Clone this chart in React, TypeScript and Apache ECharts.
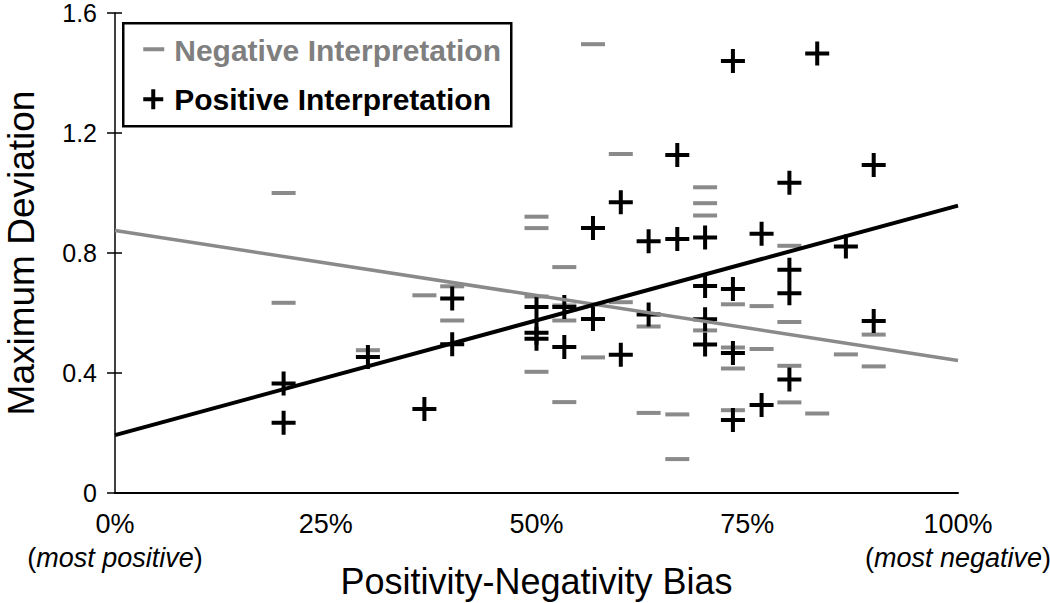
import React, { useEffect, useRef } from "react";
import * as echarts from "echarts";

// Positivity-negativity bias (%) and maximum deviation, negative interpretation
const negativeBias = [
  20, 20, 30, 36.7, 40, 40, 50, 50, 50, 50, 53.3, 53.3, 53.3, 53.3, 56.7, 56.7,
  60, 60, 63.3, 63.3, 66.7, 66.7, 70, 70, 70, 70, 73.3, 73.3, 73.3, 73.3, 76.7,
  76.7, 80, 80, 80, 80, 83.3, 86.7, 90, 90,
];
const negativeDeviation = [
  1.0, 0.634, 0.476, 0.659, 0.689, 0.575, 0.921, 0.883, 0.655, 0.404, 0.753,
  0.625, 0.575, 0.303, 1.496, 0.452, 1.13, 0.636, 0.555, 0.267, 0.262, 0.113,
  1.019, 0.966, 0.925, 0.542, 0.629, 0.485, 0.415, 0.276, 0.623, 0.48, 0.824,
  0.57, 0.424, 0.302, 0.265, 0.462, 0.528, 0.422,
];

// Positive interpretation
const positiveBias = [
  20, 20, 30, 36.7, 40, 40, 50, 50, 50, 53.3, 53.3, 56.7, 56.7, 60, 60, 63.3,
  63.3, 66.7, 66.7, 70, 70, 70, 70, 73.3, 73.3, 73.3, 73.3, 76.7, 76.7, 80, 80,
  80, 80, 83.3, 86.7, 90, 90,
];
const positiveDeviation = [
  0.365, 0.234, 0.453, 0.28, 0.648, 0.496, 0.62, 0.534, 0.514, 0.62, 0.487,
  0.883, 0.58, 0.969, 0.461, 0.839, 0.595, 1.127, 0.847, 0.852, 0.69, 0.579,
  0.495, 1.44, 0.68, 0.467, 0.243, 0.864, 0.293, 1.034, 0.744, 0.666, 0.378,
  1.465, 0.822, 1.093, 0.573,
];

// Trend line endpoints (bias %, deviation)
const negativeTrendBias = [0, 100];
const negativeTrendDeviation = [0.875, 0.442];
const positiveTrendBias = [0, 100];
const positiveTrendDeviation = [0.193, 0.958];

const xTicks = [0, 25, 50, 75, 100];
const xTickLabels = ["0%", "25%", "50%", "75%", "100%"];
const yTicks = [0, 0.4, 0.8, 1.2, 1.6];
const yTickLabels = ["0", "0.4", "0.8", "1.2", "1.6"];

const seriesNames = ["Negative Interpretation", "Positive Interpretation"];

const GRAY = "#8a8a8a";
const FONT = "'Liberation Sans', Arial, Helvetica, sans-serif";

const MINUS = "path://M0,0H24V4H0Z";
const PLUS = "path://M10,0H14V24H10Z M0,10H24V14H0Z";

export default function App() {
  const ref = useRef<HTMLDivElement>(null);

  useEffect(() => {
    if (!ref.current) return;
    const chart = echarts.init(ref.current, undefined, { renderer: "svg" });

    const negData = negativeBias.map((b, i) => [b, negativeDeviation[i]]);
    const posData = positiveBias.map((b, i) => [b, positiveDeviation[i]]);
    const negTrend = negativeTrendBias.map((b, i) => [b, negativeTrendDeviation[i]]);
    const posTrend = positiveTrendBias.map((b, i) => [b, positiveTrendDeviation[i]]);

    const xLabel = (v: number) => {
      const idx = xTicks.indexOf(v);
      const t = idx >= 0 ? xTickLabels[idx] : "";
      if (v === 0) return t + "\n{p|(}{i|most positive}{p|)}";
      if (v === 100) return t + "\n{p|(}{i|most negative}{p|)}";
      return t;
    };
    const yLabel = (v: number) => {
      const idx = yTicks.findIndex((t) => Math.abs(t - v) < 1e-9);
      return idx >= 0 ? yTickLabels[idx] : "";
    };

    chart.setOption({
      animation: false,
      backgroundColor: "#ffffff",
      textStyle: { fontFamily: FONT },
      grid: { left: 115, right: 92, top: 13, bottom: 110, containLabel: false, outerBoundsMode: "none" },
      xAxis: {
        type: "value",
        min: 0,
        max: 100,
        interval: 25,
        name: "Positivity-Negativity Bias",
        nameLocation: "middle",
        nameGap: 70,
        nameMoveOverlap: false,
        nameTextStyle: { fontSize: 36, color: "#000", fontFamily: FONT, lineHeight: 36 },
        axisLine: { show: true, lineStyle: { color: "#000", width: 2 } },
        axisTick: { show: false },
        splitLine: { show: false },
        axisLabel: {
          formatter: xLabel,
          fontSize: 27,
          color: "#000",
          margin: 14,
          lineHeight: 34,
          fontFamily: FONT,
          rich: {
            p: { fontSize: 27, color: "#000", fontFamily: FONT, lineHeight: 34 },
            i: { fontSize: 27, color: "#000", fontStyle: "italic", fontFamily: FONT, lineHeight: 34 },
          },
        },
      },
      yAxis: [
        {
          type: "value",
          min: 0,
          max: 1.6,
          interval: 0.4,
          position: "left",
          name: "Maximum Deviation",
          nameLocation: "middle",
          nameGap: 75,
          nameMoveOverlap: false,
          nameTextStyle: { fontSize: 37, color: "#000", fontFamily: FONT },
          axisLine: { show: true, lineStyle: { color: "#000", width: 1.5 } },
          axisTick: { show: true, inside: false, length: 8, lineStyle: { color: "#000", width: 1.5 } },
          splitLine: { show: false },
          axisLabel: {
            formatter: yLabel,
            fontSize: 25,
            lineHeight: 25,
            padding: [5, 0, 0, 0],
            color: "#000",
            margin: 18,
            fontFamily: FONT,
          },
        },
        {
          type: "value",
          min: 0,
          max: 1.6,
          interval: 0.4,
          position: "left",
          offset: 0,
          axisLine: { show: false },
          axisTick: { show: true, inside: true, length: 7, lineStyle: { color: "#000", width: 1.5 } },
          axisLabel: { show: false },
          splitLine: { show: false },
        },
      ],
      series: [
        {
          name: seriesNames[0],
          type: "scatter",
          data: negData,
          symbol: MINUS,
          symbolSize: [24, 4],
          itemStyle: { color: GRAY, opacity: 1 },
          z: 2,
        },
        {
          name: seriesNames[1],
          type: "scatter",
          data: posData,
          symbol: PLUS,
          symbolSize: [24, 24],
          itemStyle: { color: "#000", opacity: 1 },
          z: 3,
        },
        {
          name: seriesNames[0] + " trend",
          type: "line",
          data: negTrend,
          symbol: "none",
          lineStyle: { color: GRAY, width: 3.5 },
          z: 4,
        },
        {
          name: seriesNames[1] + " trend",
          type: "line",
          data: posTrend,
          symbol: "none",
          lineStyle: { color: "#000", width: 4 },
          z: 5,
        },
      ],
      graphic: [
        {
          type: "group",
          left: 122,
          top: 22,
          z: 100,
          children: [
            {
              type: "rect",
              shape: { x: 0, y: 0, width: 388, height: 103 },
              style: { fill: "#fff", stroke: "#000", lineWidth: 2.5 },
            },
            {
              type: "rect",
              shape: { x: 20, y: 24, width: 21, height: 4 },
              style: { fill: GRAY },
            },
            {
              type: "text",
              x: 51,
              y: 27,
              style: {
                text: seriesNames[0],
                fontSize: 30,
                fontWeight: "bold",
                fontFamily: FONT,
                fill: "#7f7f7f",
                verticalAlign: "middle",
              },
            },
            {
              type: "rect",
              shape: { x: 20, y: 74, width: 20, height: 4 },
              style: { fill: "#000" },
            },
            {
              type: "rect",
              shape: { x: 28, y: 66, width: 4, height: 20 },
              style: { fill: "#000" },
            },
            {
              type: "text",
              x: 51,
              y: 76,
              style: {
                text: seriesNames[1],
                fontSize: 30,
                fontWeight: "bold",
                fontFamily: FONT,
                fill: "#000",
                verticalAlign: "middle",
              },
            },
          ],
        },
      ],
    });

    return () => chart.dispose();
  }, []);

  return (
    <div
      ref={ref}
      style={{ position: "fixed", left: 0, top: 0, width: 1050, height: 603, background: "#fff" }}
    />
  );
}
